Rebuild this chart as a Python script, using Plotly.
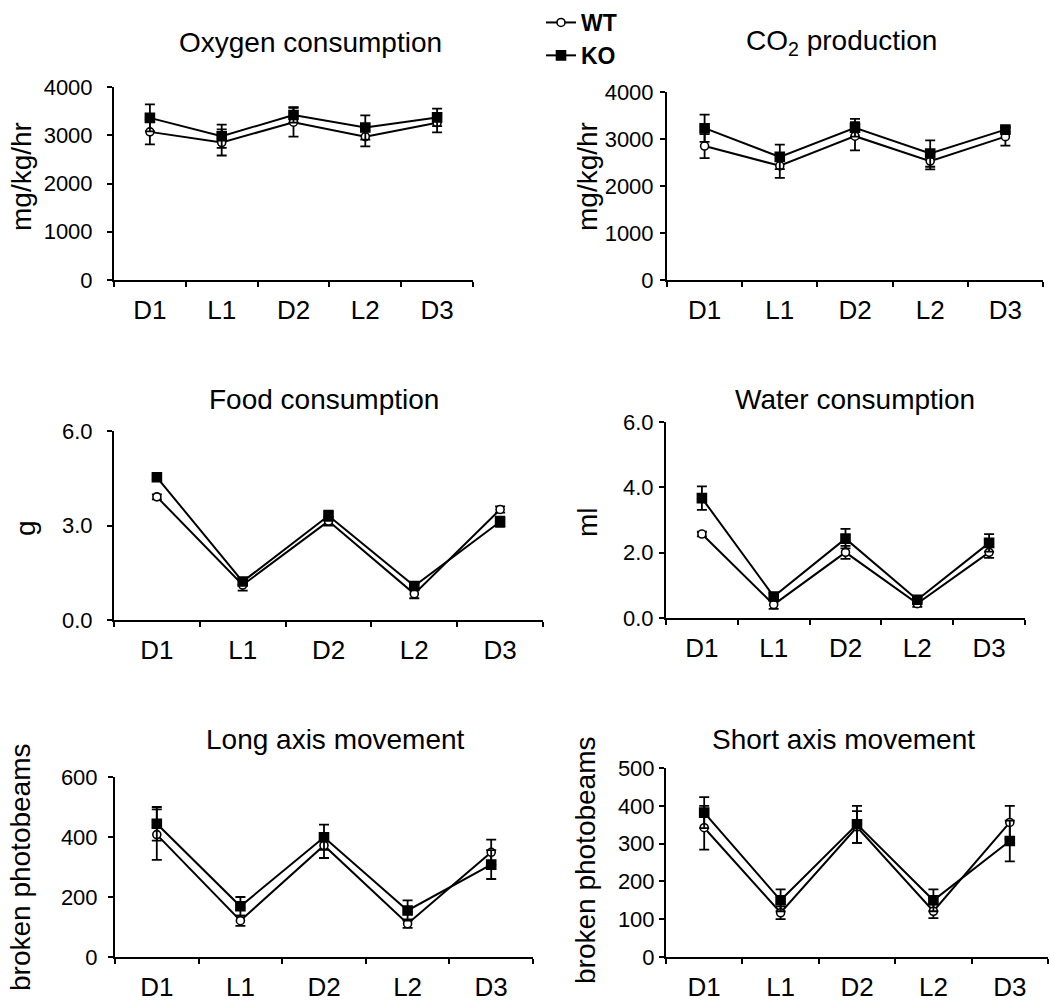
import plotly.graph_objects as go

W, H = 1050, 1002
FONT = "Liberation Sans, Arial, sans-serif"

cats = ["D1", "L1", "D2", "L2", "D3"]

o2_wt = [3070, 2850, 3270, 2970, 3260]
o2_wt_err = [260, 270, 300, 200, 200]
o2_ko = [3360, 2980, 3420, 3160, 3370]
o2_ko_err = [280, 240, 160, 250, 180]

co2_wt = [2850, 2430, 3060, 2530, 3050]
co2_wt_err = [255, 255, 300, 175, 190]
co2_ko = [3230, 2620, 3240, 2690, 3200]
co2_ko_err = [290, 260, 190, 280, 60]

food_wt = [3.91, 1.11, 3.14, 0.83, 3.51]
food_wt_err = [0.08, 0.18, 0.14, 0.14, 0.10]
food_ko = [4.53, 1.22, 3.31, 1.08, 3.12]
food_ko_err = [0.06, 0.10, 0.16, 0.08, 0.16]

water_wt = [2.57, 0.41, 2.01, 0.44, 2.01]
water_wt_err = [0.07, 0.13, 0.20, 0.10, 0.17]
water_ko = [3.67, 0.66, 2.43, 0.56, 2.30]
water_ko_err = [0.36, 0.10, 0.30, 0.08, 0.27]

long_wt = [408, 121, 372, 111, 349]
long_wt_err = [84, 17, 42, 14, 42]
long_ko = [444, 169, 399, 155, 308]
long_ko_err = [56, 31, 42, 34, 48]

short_wt = [342, 117, 344, 121, 356]
short_wt_err = [58, 17, 42, 18, 44]
short_ko = [382, 150, 351, 150, 307]
short_ko_err = [41, 29, 49, 29, 54]

panels = [
    dict(title="Oxygen consumption", ytitle="mg/kg/hr", wt=o2_wt, wte=o2_wt_err, ko=o2_ko, koe=o2_ko_err,
         yticks=[0, 1000, 2000, 3000, 4000], fmt="d", box=(114, 473, 87, 280),
         tpos=(310, 42), ypos=(21, 177), standoff=10),
    dict(title="CO<sub>2</sub> production", ytitle="mg/kg/hr", wt=co2_wt, wte=co2_wt_err, ko=co2_ko, koe=co2_ko_err,
         yticks=[0, 1000, 2000, 3000, 4000], fmt="d", box=(667, 1043, 92, 280),
         tpos=(841, 42), ypos=(587, 177), standoff=2),
    dict(title="Food consumption", ytitle="g", wt=food_wt, wte=food_wt_err, ko=food_ko, koe=food_ko_err,
         yticks=[0, 3, 6], fmt=".1f", box=(114, 543, 431, 620),
         tpos=(324, 399), ypos=(25, 528), standoff=10),
    dict(title="Water consumption", ytitle="ml", wt=water_wt, wte=water_wt_err, ko=water_ko, koe=water_ko_err,
         yticks=[0, 2, 4, 6], fmt=".1f", box=(666, 1025, 422, 618),
         tpos=(855, 399), ypos=(587, 522), standoff=1),
    dict(title="Long axis movement", ytitle="broken photobeams", wt=long_wt, wte=long_wt_err, ko=long_ko, koe=long_ko_err,
         yticks=[0, 200, 400, 600], fmt="d", box=(115, 533, 777, 957),
         tpos=(335, 739), ypos=(20, 867), standoff=6),
    dict(title="Short axis movement", ytitle="broken photobeams", wt=short_wt, wte=short_wt_err, ko=short_ko, koe=short_ko_err,
         yticks=[0, 100, 200, 300, 400, 500], fmt="d", box=(666, 1048, 768, 957),
         tpos=(843, 739), ypos=(585, 860), standoff=0),
]

xpos = [i + 0.5 for i in range(len(cats))]
bounds = list(range(len(cats) + 1))

fig = go.Figure()
annotations = []
layout = {}

for k, p in enumerate(panels):
    n = k + 1
    xa = "x" if n == 1 else f"x{n}"
    ya = "y" if n == 1 else f"y{n}"
    x0, x1, yt, yb = p["box"]
    for name, vals, errs, sym in [("WT", p["wt"], p["wte"], "circle"), ("KO", p["ko"], p["koe"], "square")]:
        fig.add_trace(go.Scatter(
            x=xpos, y=vals, xaxis=xa, yaxis=ya, name=name, mode="lines+markers",
            showlegend=(n == 1),
            line=dict(color="black", width=2),
            marker=dict(symbol=sym, size=8 if sym == "circle" else 9,
                        color="white" if sym == "circle" else "black",
                        line=dict(color="black", width=1.6)),
            error_y=dict(type="data", array=errs, visible=True, color="black", thickness=1.8, width=5),
            cliponaxis=False,
        ))
    ymax = p["yticks"][-1]
    layout["xaxis" if n == 1 else f"xaxis{n}"] = dict(
        domain=[x0 / W, x1 / W], anchor=ya, range=[0, 5], showgrid=False, zeroline=False,
        showline=True, linecolor="black", linewidth=2,
        tickmode="array", tickvals=xpos, ticktext=cats, ticks="",
        tickfont=dict(family=FONT, size=26, color="black"), ticklabelstandoff=6,
        minor=dict(tickmode="array", tickvals=bounds, ticks="outside", ticklen=5, tickwidth=2, tickcolor="black"),
    )
    layout["yaxis" if n == 1 else f"yaxis{n}"] = dict(
        domain=[1 - yb / H, 1 - yt / H], anchor=xa, range=[0, ymax], showgrid=False, zeroline=False,
        showline=True, linecolor="black", linewidth=2,
        tickmode="array", tickvals=p["yticks"], tickformat=p["fmt"],
        ticks="outside", ticklen=5, tickwidth=2, tickcolor="black",
        tickfont=dict(family=FONT, size=22, color="black"), ticklabelstandoff=p["standoff"],
    )
    annotations.append(dict(text=p["title"], x=p["tpos"][0] / W, y=1 - p["tpos"][1] / H,
                            xref="paper", yref="paper", xanchor="center", yanchor="middle",
                            showarrow=False, font=dict(family=FONT, size=28, color="black")))
    annotations.append(dict(text=p["ytitle"], x=p["ypos"][0] / W, y=1 - p["ypos"][1] / H,
                            xref="paper", yref="paper", xanchor="center", yanchor="middle",
                            textangle=-90, showarrow=False, font=dict(family=FONT, size=28, color="black")))

fig.update_layout(
    width=W, height=H, margin=dict(l=0, r=0, t=0, b=0, autoexpand=False),
    paper_bgcolor="white", plot_bgcolor="white",
    font=dict(family=FONT, color="black"),
    annotations=annotations,
    legend=dict(x=541 / W, y=1 - 1 / H, xanchor="left", yanchor="top",
                font=dict(family=FONT, size=23, color="black", weight="bold"),
                bgcolor="rgba(0,0,0,0)", tracegroupgap=0, itemwidth=30),
    **layout,
)

fig.write_html("out.html", config={"displayModeBar": False})

# remove default page margins so the figure fills the window exactly
with open("out.html", "r", encoding="utf-8") as f:
    html = f.read()
html = html.replace("<head>", "<head><style>html,body{margin:0;padding:0;overflow:hidden;}</style>", 1)
with open("out.html", "w", encoding="utf-8") as f:
    f.write(html)
